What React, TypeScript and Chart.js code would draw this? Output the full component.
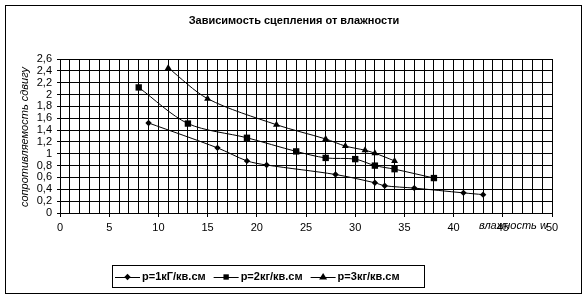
import React, { useEffect, useRef } from "react";
import { Chart, registerables } from "chart.js";

Chart.register(...registerables);

const titleText = "Зависимость сцепления от влажности";
const xAxisTitle = "влажность w";
const yAxisTitle = "сопротивляемость сдвигу";
const seriesNames = ["р=1кГ/кв.см", "р=2кг/кв.см", "р=3кг/кв.см"];
const pointStyles = ["rectRot", "rect", "triangle"];
const pointRadii = [3.2, 4.5, 4];

const s1X = [9, 16, 19, 21, 28, 32, 33, 36, 41, 43];
const s1Y = [1.52, 1.1, 0.88, 0.81, 0.65, 0.51, 0.46, 0.42, 0.34, 0.31];
const s2X = [8, 13, 19, 24, 27, 30, 32, 34, 38];
const s2Y = [2.12, 1.51, 1.27, 1.04, 0.93, 0.91, 0.8, 0.74, 0.59];
const s3X = [11, 15, 22, 27, 29, 31, 32, 34];
const s3Y = [2.45, 1.93, 1.49, 1.25, 1.13, 1.06, 1.01, 0.88];

const xMin = 0;
const xMax = 50;
const xStep = 1;
const xLabelEvery = 5;
const yMin = 0;
const yMax = 2.6;
const yStep = 0.2;

const FONT = "'Liberation Sans', Arial, sans-serif";

function toPoints(xs: number[], ys: number[]) {
  return xs.map((x, i) => ({ x, y: ys[i] }));
}

const decorPlugin = {
  id: "decor",
  afterDraw(chart: any) {
    const ctx = chart.ctx as CanvasRenderingContext2D;
    ctx.save();
    // outer frame
    ctx.strokeStyle = "#000";
    ctx.lineWidth = 1;
    ctx.strokeRect(5.5, 5.5, 576, 288);

    // title
    ctx.fillStyle = "#000";
    ctx.font = `bold 11px ${FONT}`;
    ctx.textAlign = "center";
    ctx.textBaseline = "middle";
    ctx.fillText(titleText, 294, 21);

    // y axis title
    ctx.save();
    ctx.translate(25, 137);
    ctx.rotate(-Math.PI / 2);
    ctx.font = `italic 11px ${FONT}`;
    ctx.fillStyle = "#000";
    ctx.textAlign = "center";
    ctx.textBaseline = "middle";
    ctx.fillText(yAxisTitle, 0, 0);
    ctx.restore();

    // x axis title
    ctx.font = `italic 11px ${FONT}`;
    ctx.textAlign = "left";
    ctx.textBaseline = "middle";
    ctx.fillText(xAxisTitle, 479, 226);

    // legend
    ctx.strokeStyle = "#000";
    ctx.lineWidth = 1;
    ctx.strokeRect(112.5, 265.5, 312, 22);
    ctx.font = `bold 11px ${FONT}`;
    let x = 115;
    const yc = 277;
    chart.data.datasets.forEach((ds: any, i: number) => {
      ctx.beginPath();
      ctx.moveTo(x, yc + 0.5);
      ctx.lineTo(x + 25, yc + 0.5);
      ctx.strokeStyle = "#000";
      ctx.stroke();
      const style = ds.pointStyle;
      const r = i === 1 ? 3.5 : ds.pointRadius;
      (Chart as any).helpers?.drawPoint
        ? (Chart as any).helpers.drawPoint(ctx, { pointStyle: style, radius: r, borderWidth: 0 }, x + 12.5, yc)
        : null;
      ctx.fillStyle = "#000";
      ctx.textAlign = "left";
      ctx.fillText(ds.label, x + 27, yc);
      x += 27 + ctx.measureText(ds.label).width + 8;
    });
    ctx.restore();
  },
};

function drawMarker(ctx: CanvasRenderingContext2D, style: string, r: number, x: number, y: number) {
  ctx.beginPath();
  if (style === "rect") {
    const s = r * Math.SQRT1_2;
    ctx.rect(x - s, y - s, 2 * s, 2 * s);
  } else if (style === "rectRot") {
    ctx.moveTo(x, y - r);
    ctx.lineTo(x + r, y);
    ctx.lineTo(x, y + r);
    ctx.lineTo(x - r, y);
    ctx.closePath();
  } else {
    const h = r * 1.5;
    ctx.moveTo(x, y - r);
    ctx.lineTo(x + r * 0.87 * 1.15, y + r * 0.6);
    ctx.lineTo(x - r * 0.87 * 1.15, y + r * 0.6);
    ctx.closePath();
    void h;
  }
  ctx.fillStyle = "#000";
  ctx.fill();
}

const legendMarkers = {
  id: "legendMarkers",
  afterDraw(chart: any) {
    const ctx = chart.ctx as CanvasRenderingContext2D;
    ctx.save();
    ctx.font = `bold 11px ${FONT}`;
    let x = 115;
    const yc = 277;
    chart.data.datasets.forEach((ds: any, i: number) => {
      drawMarker(ctx, ds.pointStyle, i === 1 ? 3.8 : ds.pointRadius, x + 12.5, yc);
      x += 27 + ctx.measureText(ds.label).width + 8;
    });
    ctx.restore();
  },
};

export default function App() {
  const ref = useRef<HTMLCanvasElement | null>(null);

  useEffect(() => {
    document.body.style.margin = "0";
    const canvas = ref.current;
    if (!canvas) return;
    const xs = [s1X, s2X, s3X];
    const ys = [s1Y, s2Y, s3Y];
    const chart = new Chart(canvas, {
      type: "scatter",
      data: {
        datasets: seriesNames.map((name, i) => ({
          label: name,
          data: toPoints(xs[i], ys[i]),
          showLine: true,
          borderColor: "#000",
          backgroundColor: "#000",
          borderWidth: 1,
          tension: 0.3,
          pointStyle: pointStyles[i] as any,
          pointRadius: pointRadii[i],
          pointBorderWidth: 0,
          pointBackgroundColor: "#000",
        })),
      },
      options: {
        responsive: false,
        animation: false,
        events: [],
        layout: { padding: { top: 59, right: 36, left: 0, bottom: 0 } },
        plugins: {
          legend: { display: false },
          title: { display: false },
          tooltip: { enabled: false },
        },
        scales: {
          x: {
            type: "linear",
            min: xMin,
            max: xMax,
            afterFit: (s: any) => {
              s.height = 87;
            },
            border: { color: "#000", width: 1 },
            grid: {
              color: "#000",
              lineWidth: 1,
              tickLength: 4,
              tickColor: (c: any) =>
                c.tick && Math.round(c.tick.value) % xLabelEvery === 0 ? "#000" : "rgba(0,0,0,0)",
            },
            ticks: {
              stepSize: xStep,
              autoSkip: false,
              maxRotation: 0,
              padding: 4,
              color: "#000",
              font: { family: FONT, size: 11 },
              callback: (v: any) => (Math.round(v) % xLabelEvery === 0 ? String(Math.round(v)) : ""),
            },
          },
          y: {
            type: "linear",
            min: yMin,
            max: yMax,
            afterFit: (s: any) => {
              s.width = 60;
            },
            border: { color: "#000", width: 1 },
            grid: { color: "#000", lineWidth: 1, tickLength: 3, tickColor: "#000" },
            ticks: {
              stepSize: yStep,
              autoSkip: false,
              padding: 5,
              color: "#000",
              font: { family: FONT, size: 11 },
              callback: (v: any) => String(Math.round(v * 10) / 10).replace(".", ","),
            },
          },
        },
      },
      plugins: [decorPlugin, legendMarkers],
    });
    return () => chart.destroy();
  }, []);

  return (
    <div style={{ width: 588, height: 300 }}>
      <canvas ref={ref} width={588} height={300} style={{ display: "block" }} />
    </div>
  );
}
